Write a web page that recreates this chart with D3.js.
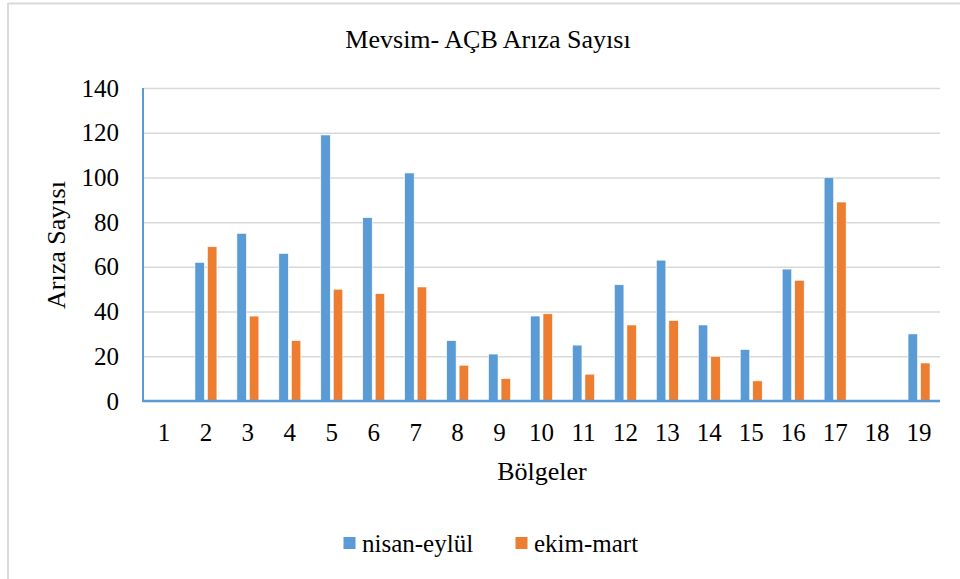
<!DOCTYPE html>
<html>
<head>
<meta charset="utf-8">
<script src="https://cdn.jsdelivr.net/npm/d3@7"></script>
<style>
  html, body { margin: 0; padding: 0; background: #fff; }
  #chart text { font-family: "Liberation Serif", "Times New Roman", serif; }
</style>
</head>
<body>
<svg id="chart" width="960" height="579"></svg>
<script>
// Regions (Bölgeler) and fault counts per season
const categories = ["1","2","3","4","5","6","7","8","9","10","11","12","13","14","15","16","17","18","19"];
const nisanEylul = [0, 62, 75, 66, 119, 82, 102, 27, 21, 38, 25, 52, 63, 34, 23, 59, 100, 0, 30];
const ekimMart   = [0, 69, 38, 27, 50, 48, 51, 16, 10, 39, 12, 34, 36, 20, 9, 54, 89, 0, 17];
const seriesNames = ["nisan-eylül", "ekim-mart"];
const seriesColors = ["#5b9bd5", "#ed7d31"];
const yTicks = [0, 20, 40, 60, 80, 100, 120, 140];

const FONT = "Liberation Serif";
const svg = d3.select("#chart");
const W = 960, H = 579;
const plot = { left: 143, right: 940, top: 88, bottom: 401 };

// outer frame (top and left edges)
svg.append("line").attr("x1", 8).attr("x2", W).attr("y1", 3.5).attr("y2", 3.5)
  .attr("stroke", "#d9d9d9").attr("stroke-width", 2);
svg.append("line").attr("x1", 8).attr("x2", 8).attr("y1", 3).attr("y2", H)
  .attr("stroke", "#d9d9d9").attr("stroke-width", 2);

const x0 = d3.scaleBand().domain(categories).range([plot.left, plot.right]).paddingInner(0).paddingOuter(0);
const x1 = d3.scaleBand().domain(seriesNames).range([0, x0.bandwidth()]).paddingInner(0.24).paddingOuter(0.8);
const y = d3.scaleLinear().domain([0, 140]).range([plot.bottom, plot.top]);

// horizontal gridlines with value labels
const yAxis = d3.axisLeft(y).tickValues(yTicks).tickSize(-(plot.right - plot.left)).tickFormat(d3.format("d")).tickPadding(24);
const gy = svg.append("g").attr("transform", `translate(${plot.left},0)`).call(yAxis);
gy.select(".domain").remove();
gy.selectAll(".tick line").attr("stroke", "#d9d9d9").attr("stroke-width", 1.5);
gy.selectAll(".tick text").attr("font-size", 25).attr("fill", "#000").style("font-family", FONT);

// bars
const rows = categories.map((c, i) => ({ cat: c, values: [nisanEylul[i], ekimMart[i]] }));
const groups = svg.append("g").selectAll("g").data(rows).join("g")
  .attr("transform", d => `translate(${x0(d.cat)},0)`);
groups.selectAll("rect").data(d => d.values.map((v, k) => ({ key: seriesNames[k], v, k })))
  .join("rect")
  .attr("x", d => x1(d.key))
  .attr("width", x1.bandwidth())
  .attr("y", d => y(d.v))
  .attr("height", d => y(0) - y(d.v))
  .attr("fill", d => seriesColors[d.k])
  .attr("stroke", "#fff").attr("stroke-width", 0.6);

// axis lines
svg.append("line").attr("x1", plot.left).attr("x2", plot.left).attr("y1", plot.top).attr("y2", plot.bottom + 1)
  .attr("stroke", "#5b9bd5").attr("stroke-width", 2);
svg.append("line").attr("x1", plot.left).attr("x2", plot.right).attr("y1", plot.bottom).attr("y2", plot.bottom)
  .attr("stroke", "#5b9bd5").attr("stroke-width", 2.5);

// category labels
const xAxis = d3.axisBottom(x0).tickSize(0).tickPadding(22);
const gx = svg.append("g").attr("transform", `translate(0,${plot.bottom})`).call(xAxis);
gx.select(".domain").remove();
gx.selectAll(".tick text").attr("font-size", 25).attr("fill", "#000").style("font-family", FONT);

// titles
svg.append("text").attr("x", 488).attr("y", 48).attr("text-anchor", "middle")
  .style("font-family", FONT).attr("font-size", 26).text("Mevsim- AÇB Arıza Sayısı");
svg.append("text").attr("x", 542).attr("y", 480).attr("text-anchor", "middle")
  .style("font-family", FONT).attr("font-size", 26).text("Bölgeler");
svg.append("text").attr("transform", "translate(65,245) rotate(-90)").attr("text-anchor", "middle")
  .style("font-family", FONT).attr("font-size", 26).text("Arıza Sayısı");

// legend
const legend = svg.append("g").attr("transform", "translate(343,552)");
const legendX = [0, 172];
seriesNames.forEach((name, k) => {
  const g = legend.append("g").attr("transform", `translate(${legendX[k]},0)`);
  g.append("rect").attr("x", 0.5).attr("y", -15).attr("width", 12).attr("height", 12).attr("fill", seriesColors[k]);
  g.append("text").attr("x", 19).attr("y", 0).style("font-family", FONT).attr("font-size", 25).text(name);
});
</script>
</body>
</html>
